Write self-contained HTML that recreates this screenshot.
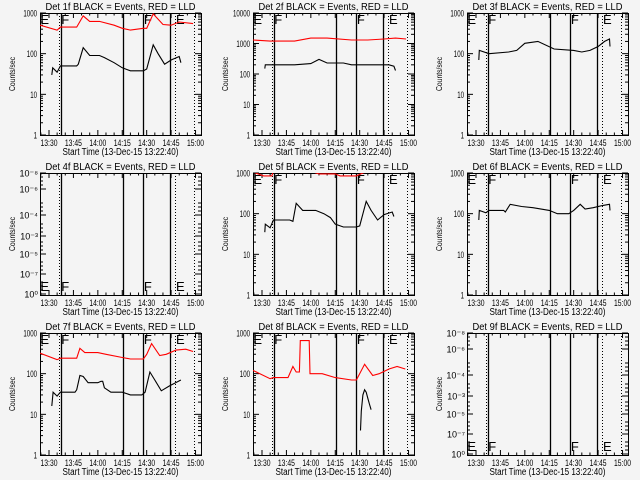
<!DOCTYPE html>
<html><head><meta charset="utf-8"><style>
html,body{margin:0;padding:0;background:#f4f4f4;}
svg{display:block;font-family:"Liberation Sans",sans-serif;}
</style></head><body>
<svg id="c" width="640" height="480" viewBox="0 0 640 480" xmlns="http://www.w3.org/2000/svg">
<rect width="640" height="480" fill="#f4f4f4"/>
</svg>
<script>
// time in minutes relative to 13:30
const p1BlackT=[1.7,2.3,5,7,17,18,21,25,31,34,40,45,50,58,60,64,67,71,75,80,81];
const p1BlackV=[30,45,35,50,50,55,140,90,90,80,60,45,38,38,42,165,100,55,70,85,60];
const p1RedT=[-5.5,5,7,17,21,25,31,40,45,50,58,60,64,70,75,80,88.5];
const p1RedV=[500,380,450,450,850,620,620,500,420,380,420,420,950,520,500,600,550];
const p2BlackT=[1.7,2,20,30,35,40,50,55,78,81,82];
const p2BlackV=[150,200,200,220,300,230,230,200,200,180,130];
const p2RedT=[-5.5,5,20,30,40,55,65,75,82,88.5];
const p2RedV=[1300,1200,1200,1500,1500,1300,1300,1400,1500,1400];
const p3BlackT=[1.7,2,8,20,25,30,38,48,60,65,70,75,79,82,82.3];
const p3BlackV=[70,120,100,110,120,180,200,130,120,110,120,150,200,230,150];
const p5BlackT=[1.7,2,5,7,17,19,21,25,33,38,42,45,50,58,60,64,67,71,75,80,81];
const p5BlackV=[35,55,45,70,70,65,180,120,120,100,80,55,47,47,50,200,120,70,95,110,85];
const p5RedT=[-5.5,1,6,7,30,35,45,48,58,62,65,88.5];
const p5RedV=[1050,850,850,1100,1100,950,950,850,850,1000,1100,1100];
const p6BlackT=[1.7,2,6,8,17,18,21,28,35,45,50,57,60,64,67,72,78,82,82.3];
const p6BlackV=[70,120,105,120,120,110,170,150,140,120,100,100,120,170,130,140,160,170,120];
const p7BlackT=[1.7,2.5,5,7,16,17,19,21,24,30,32,33,34,38,45,50,57,59,62,65,69,74,81];
const p7BlackV=[16,35,28,35,35,40,90,85,60,60,65,65,45,35,35,30,30,35,110,70,38,50,70];
const p7RedT=[-5.5,5,7,17,19,22,30,35,45,50,58,60,63,68,72,78,84,88.5];
const p7RedV=[320,220,240,240,420,330,330,300,250,230,230,300,550,280,300,380,400,350];
const p8BlackT=[60.5,61,62,63,64,65,66,67];
const p8BlackV=[4,12,30,40,35,25,18,13];
const p8RedT=[-5.5,5,7,16,19,21,23,23.5,29,29.5,37,45,55,58,63,68,72,78,83,88];
const p8RedV=[120,75,80,80,150,110,110,650,650,100,100,80,70,70,170,90,100,130,150,130];
const xTickLabels=["13:30","13:45","14:00","14:15","14:30","14:45","15:00"];
const xTickMinutes=[0,15,30,45,60,75,90];
const markerLines=[6,7.2,45.3,58,74.2,77.7,88.8];
const markerDotted=[true,false,false,false,false,true,true];
const markerLetters=["E","F","F","E"];
const markerLetterT=[-5.3,7.5,58.3,78];
const tinyLabels=["10\u207B\u2078","10\u207B\u2076","10\u207B\u2074","10\u207B\u00B3","10\u207B\u2075","10\u207B\u2077","10\u2070"];
const tinyOffsets=[0,16,42,63,81,101,121];

const L=[40,253,467],W=161,ROW=160,TOP=13,H=122,PX=1.628;
const NS="http://www.w3.org/2000/svg";
const svg=document.getElementById('c');
function mk(tag,attrs,parent){const e=document.createElementNS(NS,tag);for(const k in attrs)e.setAttribute(k,attrs[k]);(parent||svg).appendChild(e);return e;}
function xs(c,t){return L[c]+9+t*PX;}

const panels=[
 {n:1,dec:3,b:[p1BlackT,p1BlackV],r:[p1RedT,p1RedV]},
 {n:2,dec:4,b:[p2BlackT,p2BlackV],r:[p2RedT,p2RedV]},
 {n:3,dec:3,b:[p3BlackT,p3BlackV],r:null},
 {n:4,dec:0,b:null,r:null},
 {n:5,dec:3,b:[p5BlackT,p5BlackV],r:[p5RedT,p5RedV]},
 {n:6,dec:3,b:[p6BlackT,p6BlackV],r:null},
 {n:7,dec:3,b:[p7BlackT,p7BlackV],r:[p7RedT,p7RedV]},
 {n:8,dec:3,b:[p8BlackT,p8BlackV],r:[p8RedT,p8RedV]},
 {n:9,dec:0,b:null,r:null}
];

panels.forEach((p,i)=>{
 const c=i%3,row=Math.floor(i/3);
 const x0=L[c],y0=TOP+row*ROW,y1=y0+H;
 const g=mk('g',{});
 
 
 const ys=v=>y1-Math.log10(v)/p.dec*H;
 const cp=mk('clipPath',{id:'cp'+i},g);
 mk('rect',{x:x0,y:y0,width:W,height:H},cp);
 const tt=mk('text',{x:x0+W/2-75,y:y0-3,'font-size':'10',textLength:'150',lengthAdjust:'spacingAndGlyphs'},g);
 tt.textContent='Det '+p.n+'f BLACK = Events, RED = LLD';
 
 
 const bx=mk('rect',{x:x0+0.5,y:y0+0.5,width:W,height:H,fill:'none',stroke:'#000','stroke-width':'1'},g);
 
 
 for(let m=-5;m<=95;m+=5){const x=xs(c,m);if(x<x0||x>x0+W)continue;const len=(m%15===0)?5:2.5;
  mk('line',{x1:x,y1:y1,x2:x,y2:y1-len,stroke:'#000'},g);mk('line',{x1:x,y1:y0,x2:x,y2:y0+len,stroke:'#000'},g);}
 xTickMinutes.forEach((m,k)=>{const t=mk('text',{x:xs(c,m)-8.5,y:y1+11,'font-size':'9',textLength:'17',lengthAdjust:'spacingAndGlyphs'},g);t.textContent=xTickLabels[k];
  
  });
 const xt=mk('text',{x:x0+W/2-58,y:y1+20,'font-size':'10',textLength:'116',lengthAdjust:'spacingAndGlyphs'},g);
 xt.textContent='Start Time (13-Dec-15 13:22:40)';
 
 
 const yt=mk('text',{x:-17,y:0,'font-size':'8',textLength:'34',lengthAdjust:'spacingAndGlyphs',transform:'translate('+(x0-25)+','+(y0+H/2)+') rotate(-90)'},g);
 yt.textContent='Counts/sec';
 
 
 if(p.dec>0){
  for(let d=0;d<=p.dec;d++){const v=Math.pow(10,d),y=ys(v);
   mk('line',{x1:x0,y1:y,x2:x0+6,y2:y,stroke:'#000'},g);mk('line',{x1:x0+W,y1:y,x2:x0+W-6,y2:y,stroke:'#000'},g);
   const s=String(v);
   const t=mk('text',{x:x0-3,y:y+3.5,'text-anchor':'end','font-size':'9',textLength:String(s.length*3.4),lengthAdjust:'spacingAndGlyphs'},g);t.textContent=s;
   
   
   if(d<p.dec)for(let k=2;k<10;k++){const yy=ys(v*k);mk('line',{x1:x0,y1:yy,x2:x0+3,y2:yy,stroke:'#000'},g);mk('line',{x1:x0+W,y1:yy,x2:x0+W-3,y2:yy,stroke:'#000'},g);}
  }
 } else {
  tinyLabels.forEach((s,k)=>{const y=y0+tinyOffsets[k];
   mk('line',{x1:x0,y1:y,x2:x0+6,y2:y,stroke:'#000'},g);mk('line',{x1:x0+W,y1:y,x2:x0+W-6,y2:y,stroke:'#000'},g);
   for(let q=1;q<4;q++){const yy=y-q*4;if(yy>y0){mk('line',{x1:x0,y1:yy,x2:x0+3,y2:yy,stroke:'#000'},g);mk('line',{x1:x0+W,y1:yy,x2:x0+W-3,y2:yy,stroke:'#000'},g);}}
   const t=mk('text',{x:x0-2,y:y+3.5,'text-anchor':'end','font-size':'9'},g);t.textContent=s;
   
   });
 }
 markerLines.forEach((m,k)=>{const x=Math.round(xs(c,m))+0.5;
  const ln=mk('line',{x1:x,y1:y0,x2:x,y2:y1,stroke:'#000','stroke-width':markerDotted[k]?1:1.3,'stroke-dasharray':markerDotted[k]?'1 2':'none'},g);
  
  });
 markerLetterT.forEach((m,k)=>{const bottom=p.dec===0;
  const t=mk('text',{x:xs(c,m),y:bottom?y1-4:y0+11,'font-size':'13'},g);t.textContent=markerLetters[k];
  
  });
 const dg=mk('g',{'clip-path':'url(#cp'+i+')'},g);
 function series(s,color,name){if(!s)return;const pts=s[0].map((t,k)=>xs(c,t).toFixed(1)+','+ys(s[1][k]).toFixed(1)).join(' ');
  const pl=mk('polyline',{points:pts,fill:'none',stroke:color,'stroke-width':'1.1'},dg);
  
  }
 series(p.r,'#ff0000','lld-series');
 series(p.b,'#000000','events-series');
});
</script>
</body></html>
